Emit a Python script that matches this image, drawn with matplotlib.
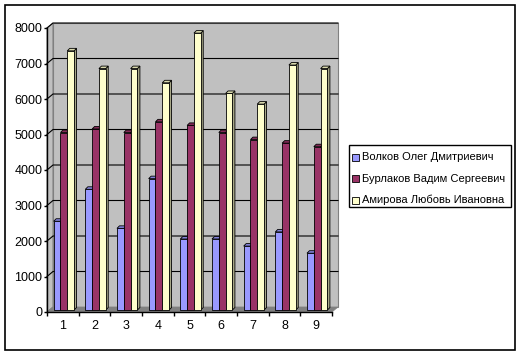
import matplotlib
matplotlib.use('Agg')
import matplotlib.pyplot as plt
from matplotlib.patches import Polygon, Rectangle
from matplotlib.transforms import IdentityTransform
import numpy as np

plt.rcParams['font.family'] = ['Liberation Sans', 'DejaVu Sans']

categories = ['1', '2', '3', '4', '5', '6', '7', '8', '9']
volkov = [2500, 3400, 2300, 3700, 2000, 2000, 1800, 2200, 1600]
burlakov = [5000, 5100, 5000, 5300, 5200, 5000, 4800, 4700, 4600]
amirova = [7300, 6800, 6800, 6400, 7800, 6100, 5800, 6900, 6800]
names = ['Волков Олег Дмитриевич', 'Бурлаков Вадим Сергеевич', 'Амирова Любовь Ивановна']
yticks = [0, 1000, 2000, 3000, 4000, 5000, 6000, 7000, 8000]

colors = ['#9999FF', '#993366', '#FFFFCC']
sides = ['#6B6BB3', '#6B2447', '#A8A888']
tops = ['#8282D9', '#822B57', '#D9D9AD']

W, H = 521, 356
fig = plt.figure(figsize=(W / 100, H / 100), dpi=100)
ident = IdentityTransform()


def P(x, y):
    # image pixel (top-left origin) -> display
    return (x, H - y)


def poly(pts, fc, ec='black', lw=0.6, z=1):
    p = Polygon([P(*q) for q in pts], closed=True, facecolor=fc, edgecolor=ec,
                linewidth=lw, transform=ident, zorder=z)
    fig.add_artist(p)

# outer border
fig.add_artist(Rectangle(P(5, 350), 510, 345, fill=False, edgecolor='black',
                         linewidth=1.2, transform=ident, zorder=5))

x0, x1, ybot, ytop = 47, 332, 312, 28
ax = fig.add_axes([x0 / W, 1 - ybot / H, (x1 - x0) / W, (ybot - ytop) / H])
ax.set_xlim(0, 9)
ax.set_ylim(0, 8000)
ax.patch.set_alpha(0)
dx, dy = 6, 5

# wall, side wall, floor
poly([(x0 + dx, ytop - dy), (x1 + dx, ytop - dy), (x1 + dx, ybot - dy), (x0 + dx, ybot - dy)],
     '#C0C0C0', ec='#808080', lw=0.8, z=-3)
poly([(x0, ybot), (x0, ytop), (x0 + dx, ytop - dy), (x0 + dx, ybot - dy)],
     '#C0C0C0', ec='#808080', lw=0.8, z=-3)
poly([(x0, ybot), (x1, ybot), (x1 + dx, ybot - dy), (x0 + dx, ybot - dy)],
     '#808080', ec='#808080', lw=0.5, z=-3)


def to_img(xd, yd):
    d = ax.transData.transform((xd, yd))
    return d[0], H - d[1]

# gridlines on wall
for t in yticks[1:]:
    xa, ya = to_img(0, t)
    xb, yb = to_img(9, t)
    fig.add_artist(plt.Line2D([xa, xa + dx, xb + dx], [H - ya, H - ya + dy, H - yb + dy],
                              color='black', linewidth=0.8, transform=ident, zorder=-2))

# bars
bw = 0.215
start = 0.21
bd = 2.5
lift = 2
for j, vals in enumerate([volkov, burlakov, amirova]):
    for i, v in enumerate(vals):
        xl, yb_ = to_img(i + start + j * bw, 0)
        xr, yt_ = to_img(i + start + (j + 1) * bw, v)
        yb_ -= lift
        yt_ -= lift
        poly([(xr, yb_), (xr, yt_), (xr + bd, yt_ - bd), (xr + bd, yb_ - bd)], sides[j], z=-1)
        poly([(xl, yt_), (xr, yt_), (xr + bd, yt_ - bd), (xl + bd, yt_ - bd)], tops[j], z=-1)
        poly([(xl, yb_), (xr, yb_), (xr, yt_), (xl, yt_)], colors[j], z=-1)

# axes
for s in ['top', 'right']:
    ax.spines[s].set_visible(False)
ax.spines['left'].set_linewidth(1)
ax.spines['bottom'].set_linewidth(1)
ax.set_yticks(yticks)
ax.set_yticklabels([str(t) for t in yticks], fontsize=9)
ax.tick_params(axis='y', length=2.5, width=1, pad=0.8)
ax.set_xticks(np.arange(10))
ax.set_xticklabels([])
ax.set_xticks(np.arange(9) + 0.5, minor=True)
ax.set_xticklabels(categories, minor=True, fontsize=9)
ax.tick_params(axis='x', which='major', length=3, width=1)
ax.tick_params(axis='x', which='minor', length=0, pad=6)

# legend
fig.add_artist(Rectangle(P(349, 207), 162, 62, facecolor='white', edgecolor='black',
                         linewidth=1, transform=ident, zorder=4))
for k, (nm, c) in enumerate(zip(names, colors)):
    yc = 157 + k * 21.5
    fig.add_artist(Rectangle(P(352, yc + 3.5), 7, 7, facecolor=c, edgecolor='black',
                             linewidth=0.6, transform=ident, zorder=5))
    fig.text(362 / W, 1 - yc / H, nm, fontsize=8, va='center', ha='left', zorder=5)

fig.savefig('out.png', dpi=100)
